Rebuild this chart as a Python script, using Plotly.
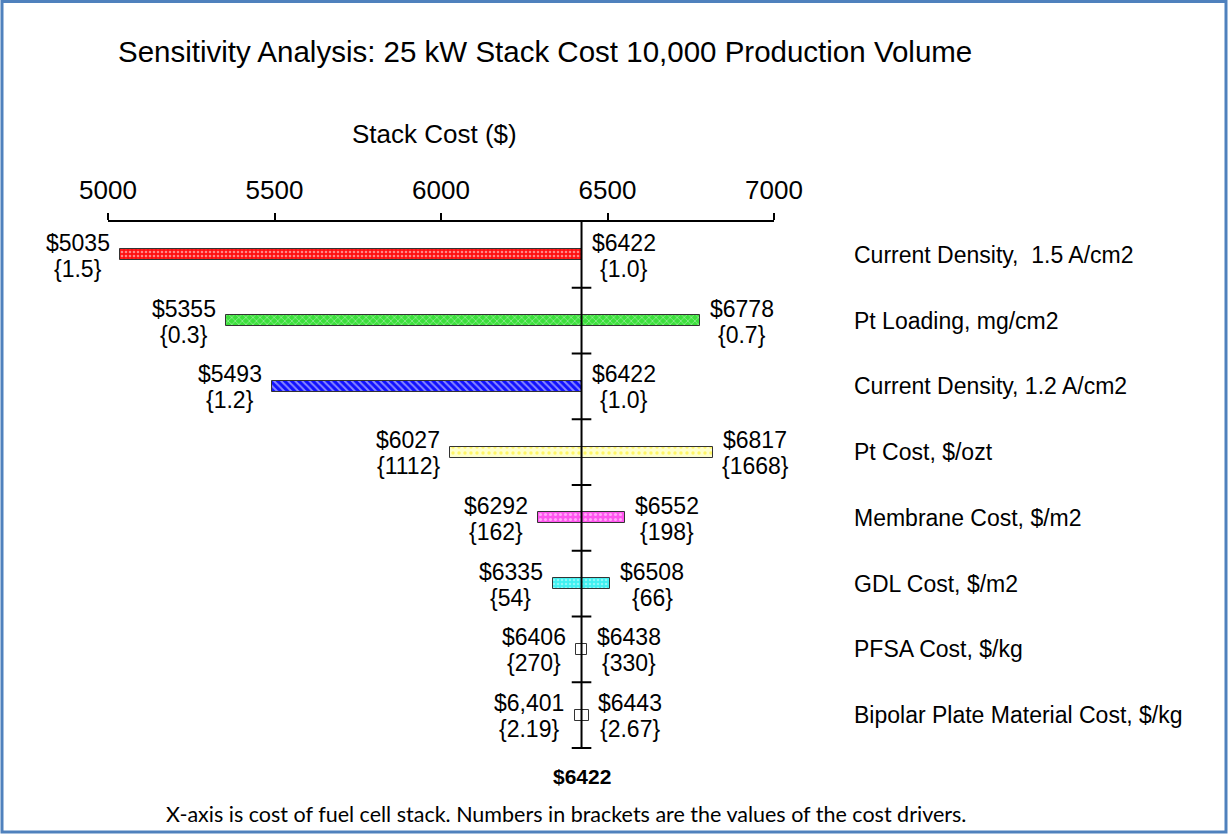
import plotly.graph_objects as go

# Tornado chart data
categories = [
    "Current Density,  1.5 A/cm2",
    "Pt Loading, mg/cm2",
    "Current Density, 1.2 A/cm2",
    "Pt Cost, $/ozt",
    "Membrane Cost, $/m2",
    "GDL Cost, $/m2",
    "PFSA Cost, $/kg",
    "Bipolar Plate Material Cost, $/kg",
]
low_cost = [5035, 5355, 5493, 6027, 6292, 6335, 6406, 6401]
high_cost = [6422, 6778, 6422, 6817, 6552, 6508, 6438, 6443]
low_labels = ["$5035", "$5355", "$5493", "$6027", "$6292", "$6335", "$6406", "$6,401"]
high_labels = ["$6422", "$6778", "$6422", "$6817", "$6552", "$6508", "$6438", "$6443"]
low_drivers = ["{1.5}", "{0.3}", "{1.2}", "{1112}", "{162}", "{54}", "{270}", "{2.19}"]
high_drivers = ["{1.0}", "{0.7}", "{1.0}", "{1668}", "{198}", "{66}", "{330}", "{2.67}"]
base_cost = 6422
x_ticks = [5000, 5500, 6000, 6500, 7000]

# bar fills: (pattern shape, fg, bg, size, solidity)
FILLS = [
    (".", "#FFFFFF", "#FF1010", 4, 0.35),
    ("x", "#FFFFFF", "#3DE03D", 5, 0.25),
    ("\\", "#FFFFFF", "#1010FF", 5, 0.4),
    (".", "#FFEE00", "#FFFFCC", 6, 0.25),
    (".", "#FFFFFF", "#FF55EE", 5, 0.3),
    (".", "#D8FFFF", "#40F0F0", 4, 0.3),
    ("", "#FFFFFF", "#FFFFFF", 4, 0.3),
    ("", "#FFFFFF", "#FFFFFF", 4, 0.3),
]

FONT = "Arial, Liberation Sans, sans-serif"
W, H = 1228, 834
L, R, T, B = 108, 454, 222, 86
LABEL_SIZE = 23

# Arial advance widths (em) for the label glyphs
GLYPH_W = {"$": 0.556, "{": 0.334, "}": 0.334, ".": 0.278, ",": 0.278}


def text_px(s, size):
    return sum(GLYPH_W.get(c, 0.556) for c in s) * size


def px_x(p):
    return (p - L) / (W - L - R)


def px_y(p):
    return (H - B - p) / (H - T - B)


rows = list(range(len(categories)))

fig = go.Figure()
for r in rows:
    shape, fg, bg, size, solid = FILLS[r]
    fig.add_trace(go.Bar(
        y=[r],
        x=[high_cost[r] - low_cost[r]],
        base=[low_cost[r]],
        orientation="h",
        width=0.17,
        marker=dict(
            color=bg,
            line=dict(color="#333333", width=1),
            pattern=dict(shape=shape, fgcolor=fg, bgcolor=bg, size=size,
                         solidity=solid, fillmode="overlay"),
        ),
        showlegend=False,
        hoverinfo="skip",
    ))

# baseline with cross ticks between rows
fig.add_vline(x=base_cost, line=dict(color="black", width=2))
fig.add_trace(go.Scatter(
    x=[base_cost] * len(categories),
    y=[r + 0.5 for r in rows],
    mode="markers",
    marker=dict(symbol="line-ew", size=14, line=dict(color="black", width=2)),
    cliponaxis=False,
    showlegend=False,
    hoverinfo="skip",
))

lab_font = dict(size=LABEL_SIZE, color="black", family=FONT)
GAP = 10
for r in rows:
    w_lo = text_px(low_labels[r], LABEL_SIZE)
    w_hi = text_px(high_labels[r], LABEL_SIZE)
    for txt, dy in ((low_labels[r], 12), (low_drivers[r], -14)):
        fig.add_annotation(x=low_cost[r], y=r, xref="x", yref="y", text=txt,
                           showarrow=False, xanchor="center", yanchor="middle",
                           xshift=-GAP - w_lo / 2, yshift=dy, font=lab_font)
    for txt, dy in ((high_labels[r], 12), (high_drivers[r], -14)):
        fig.add_annotation(x=high_cost[r], y=r, xref="x", yref="y", text=txt,
                           showarrow=False, xanchor="center", yanchor="middle",
                           xshift=GAP + w_hi / 2, yshift=dy, font=lab_font)
    fig.add_annotation(x=px_x(852), y=r, xref="paper", yref="y",
                       text=categories[r], showarrow=False,
                       xanchor="left", yanchor="middle",
                       font=dict(size=23, color="black", family=FONT))

fig.add_annotation(x=base_cost, y=px_y(776), xref="x", yref="paper",
                   text=f"<b>${base_cost}</b>", showarrow=False,
                   xanchor="center", yanchor="middle",
                   font=dict(size=21, color="black", family=FONT))
fig.add_annotation(x=px_x(566), y=px_y(814), xref="paper", yref="paper",
                   text="X-axis is cost of fuel cell stack. Numbers in brackets are the values of the cost drivers.",
                   showarrow=False, xanchor="center", yanchor="middle",
                   font=dict(size=21.5, color="black", family="Lato, sans-serif"))
fig.add_annotation(x=px_x(434), y=px_y(134), xref="paper", yref="paper",
                   text="Stack Cost ($)", showarrow=False,
                   xanchor="center", yanchor="middle",
                   font=dict(size=26, color="black", family=FONT))

# blue frame
fig.add_shape(type="rect", xref="paper", yref="paper",
              x0=px_x(2), x1=px_x(1226), y0=px_y(832), y1=px_y(1.5),
              line=dict(color="#4F81BD", width=3), layer="above")

fig.update_layout(
    width=W, height=H,
    margin=dict(l=L, r=R, t=T, b=B, autoexpand=False),
    paper_bgcolor="white", plot_bgcolor="white",
    font=dict(family=FONT, color="black"),
    title=dict(text="Sensitivity Analysis: 25 kW Stack Cost 10,000 Production Volume",
               x=118 / W, xanchor="left", xref="container",
               y=1 - 52 / H, yanchor="middle", yref="container",
               font=dict(size=29.5, color="black", family=FONT)),
    xaxis=dict(range=[5000, 7000], side="top", tickvals=x_ticks,
               showline=True, linecolor="black", linewidth=2,
               ticks="outside", ticklen=7, tickwidth=2, tickcolor="black",
               ticklabelstandoff=4,
               tickfont=dict(size=26, color="black", family=FONT),
               showgrid=False, zeroline=False, fixedrange=True),
    xaxis2=dict(range=[5000, 7000], side="top", overlaying="x", anchor="y",
                tickvals=x_ticks, showticklabels=False, showline=False,
                ticks="inside", ticklen=7, tickwidth=2, tickcolor="black",
                showgrid=False, zeroline=False),
    yaxis=dict(range=[7.5, -0.5], visible=False, fixedrange=True),
    bargap=0,
)

fig.write_html("out.html", config={"displayModeBar": False},
               post_script="document.body.style.margin='0';")
